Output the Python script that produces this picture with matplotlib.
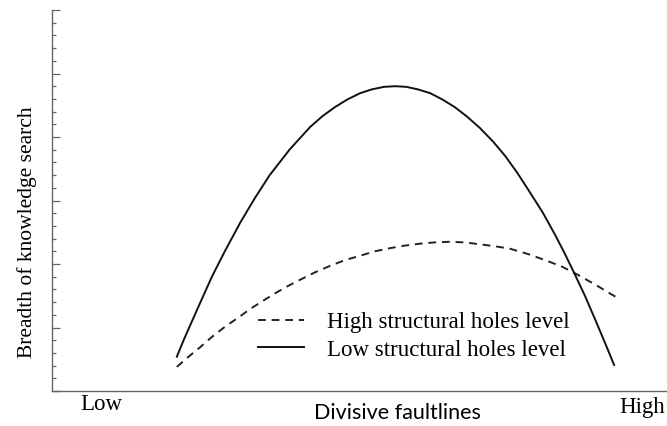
import matplotlib
matplotlib.use("Agg")
import matplotlib.pyplot as plt
from matplotlib.ticker import MultipleLocator, NullFormatter

# values (arbitrary units)
low_x = [2.03, 2.14, 2.24, 2.41, 2.60, 2.81, 3.06, 3.30, 3.54, 3.87, 4.20, 4.40,
         4.60, 4.80, 5.01, 5.20, 5.40, 5.58, 5.76, 5.95, 6.15, 6.35, 6.55, 6.75,
         6.96, 7.17, 7.37, 7.57, 7.77, 7.98, 8.18, 8.34, 8.50, 8.67, 8.83, 9.00, 9.14]
low_y = [0.54, 0.80, 1.02, 1.39, 1.80, 2.20, 2.65, 3.04, 3.40, 3.81, 4.16, 4.33,
         4.47, 4.59, 4.69, 4.75, 4.79, 4.80, 4.79, 4.75, 4.69, 4.59, 4.47, 4.32,
         4.14, 3.93, 3.70, 3.43, 3.13, 2.81, 2.46, 2.16, 1.84, 1.49, 1.13, 0.74, 0.41]

high_x = [2.03, 2.22, 2.41, 2.61, 2.81, 3.02, 3.22, 3.43, 3.63, 3.83, 4.03, 4.28,
          4.52, 4.76, 5.01, 5.25, 5.50, 5.74, 5.98, 6.22, 6.47, 6.71, 6.96, 7.20,
          7.45, 7.73, 8.02, 8.29, 8.55, 8.86, 9.17]
high_y = [0.38, 0.54, 0.69, 0.86, 1.01, 1.15, 1.29, 1.42, 1.54, 1.65, 1.75, 1.87,
          1.97, 2.06, 2.13, 2.20, 2.25, 2.29, 2.32, 2.34, 2.35, 2.34, 2.31, 2.28,
          2.24, 2.16, 2.06, 1.96, 1.83, 1.66, 1.48]

labels = ["High structural holes level", "Low structural holes level"]
x_ends = ["Low", "High"]

serif = "Liberation Serif"

fig = plt.figure(figsize=(6.67, 4.26), dpi=100)
ax = fig.add_axes([52 / 667, 1 - 391 / 426, 1 - 52 / 667, 381 / 426])

ax.plot(high_x, high_y, color="#222222", lw=1.4, ls=(0, (4, 3)), label=labels[0])
ax.plot(low_x, low_y, color="#111111", lw=1.4, label=labels[1])

ax.set_xlim(0, 10)
ax.set_ylim(0, 6)

for s in ["top", "right"]:
    ax.spines[s].set_visible(False)
for s in ["left", "bottom"]:
    ax.spines[s].set_color("#666666")
    ax.spines[s].set_linewidth(1.0)

ax.set_xticks([])
ax.yaxis.set_major_locator(MultipleLocator(1))
ax.yaxis.set_minor_locator(MultipleLocator(0.2))
ax.yaxis.set_major_formatter(NullFormatter())
ax.tick_params(axis="y", which="major", direction="in", length=6, width=0.9, color="#666666")
ax.tick_params(axis="y", which="minor", direction="in", length=3, width=0.9, color="#666666")

leg = ax.legend(loc="upper left", bbox_to_anchor=((258 - 52) / 615, 1 - (312 - 10) / 381),
                frameon=False, handlelength=2.0, handletextpad=1.0, labelspacing=0.28,
                prop={"family": serif, "size": 16.5}, borderaxespad=0, borderpad=0)

fig.text(27 / 667, 1 - 232 / 426, "Breadth of knowledge search", rotation=90,
         ha="center", va="center", family=serif, size=15.5)
fig.text(80 / 667, 1 - 405 / 426, x_ends[0], ha="left", va="center", family=serif, size=16.5)
fig.text(619 / 667, 1 - 407 / 426, x_ends[1], ha="left", va="center", family=serif, size=16.5)
fig.text(397 / 667, 1 - 413 / 426, "Divisive faultlines", ha="center", va="center",
         family="Lato", size=15.5)

fig.savefig("out.png", dpi=100)
